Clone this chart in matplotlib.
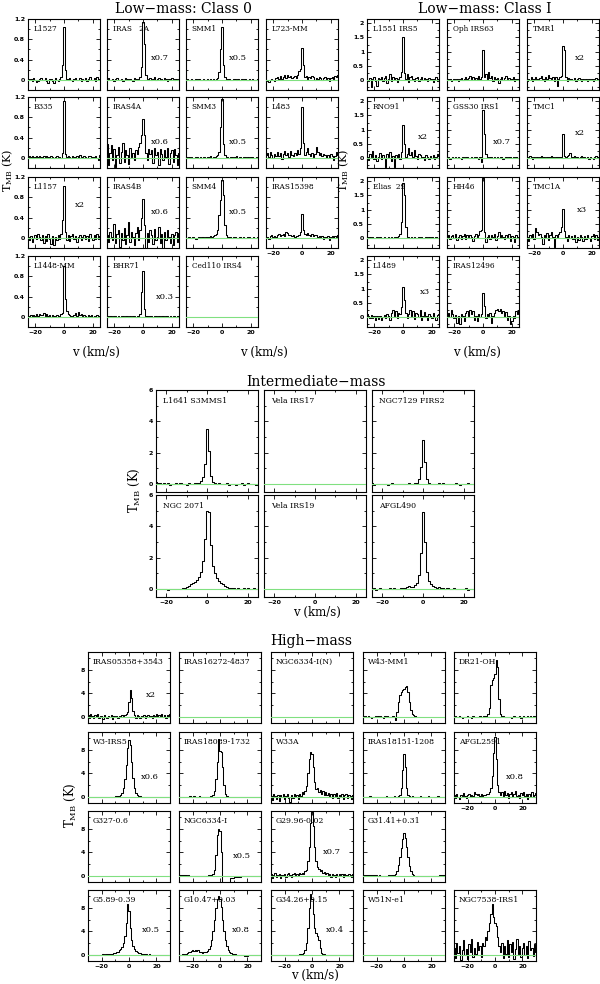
import numpy as np
from matplotlib import pyplot as plt
from matplotlib.ticker import MultipleLocator, FixedLocator, FuncFormatter

# Velocity channels (km/s)
v_low = [-25, -24, -23, -22, -21, -20, -19, -18, -17, -16, -15, -14, -13, -12, -11, -10, -9, -8, -7, -6,
         -5, -4, -3, -2, -1, 0, 1, 2, 3, 4, 5, 6, 7, 8, 9, 10, 11, 12, 13, 14, 15, 16, 17, 18, 19, 20,
         21, 22, 23, 24, 25]
v_high = [-30, -29, -28, -27, -26, -25, -24, -23, -22, -21, -20, -19, -18, -17, -16, -15, -14, -13, -12, -11,
          -10, -9, -8, -7, -6, -5, -4, -3, -2, -1, 0, 1, 2, 3, 4, 5, 6, 7, 8, 9, 10,
          11, 12, 13, 14, 15, 16, 17, 18, 19, 20, 21, 22, 23, 24, 25, 26, 27, 28, 29, 30]
nan = np.nan

# ---------------- Low-mass Class 0 (K) ----------------
t_l1527 = [0.02, -0.01, 0.01, -0.03, 0.03, 0.00, -0.04, -0.02, 0.02, 0.03,
           -0.01, 0.00, 0.04, -0.02, -0.06, 0.01, 0.02, -0.03, -0.07, 0.03,
           0.00, -0.02, 0.01, 0.05, 0.30, 1.05, 0.20, 0.02, -0.01, 0.03, 0.00,
           -0.02, 0.02, 0.04, -0.01, 0.00, 0.03, -0.02, 0.01, 0.00, 0.04,
           -0.03, 0.02, 0.05, -0.01, 0.00, 0.03, -0.02, 0.06, 0.00, 0.02]
t_iras2a = [0.01, 0.03, -0.01, 0.00, 0.02, -0.02, 0.01, 0.03, 0.00, -0.01,
            0.02, -0.02, 0.00, 0.03, 0.01, -0.01, 0.02, 0.00, -0.02, 0.03,
            0.01, 0.00, 0.02, 0.05, 0.25, 1.15, 0.70, 0.10, 0.02, -0.01, 0.03,
            0.00, 0.02, 0.05, -0.01, 0.01, 0.04, 0.00, 0.02, -0.01, 0.03,
            0.01, -0.02, 0.02, 0.00, 0.03, 0.01, -0.01, 0.02, 0.00, 0.01]
t_smm1 = [0.00, 0.01, -0.01, 0.00, 0.02, 0.00, -0.01, 0.01, 0.00, 0.01,
          -0.01, 0.00, 0.01, 0.00, -0.01, 0.01, 0.00, 0.01, 0.00, 0.01,
          0.00, 0.01, 0.03, 0.15, 0.60, 1.05, 0.30, 0.05, 0.01, 0.00, 0.01,
          0.00, -0.01, 0.01, 0.02, 0.00, 0.01, -0.01, 0.00, 0.01, 0.00,
          0.01, 0.00, -0.01, 0.01, 0.00, 0.01, 0.00, -0.01, 0.00, 0.01]
t_l723 = [0.00, -0.02, -0.04, -0.01, 0.02, 0.00, -0.03, 0.03, 0.05, 0.01,
          0.07, 0.02, 0.05, 0.09, 0.04, 0.10, 0.06, 0.08, 0.03, 0.05,
          0.07, 0.04, 0.10, 0.18, 0.22, 0.63, 0.30, 0.05, 0.08, 0.02, 0.06,
          0.03, 0.07, 0.05, -0.01, 0.04, 0.02, 0.05, 0.03, 0.00, 0.04,
          0.06, 0.02, 0.03, -0.02, 0.04, 0.05, 0.02, 0.08, 0.05, 0.09]
t_b335 = [0.02, 0.04, 0.01, 0.03, 0.00, 0.02, 0.04, 0.01, 0.03, 0.02,
          0.00, 0.03, 0.01, 0.04, 0.02, 0.00, 0.03, 0.01, -0.01, 0.02,
          0.03, 0.01, 0.02, 0.00, 0.10, 1.12, 0.08, 0.01, 0.03, 0.02, 0.00,
          0.04, 0.02, 0.01, 0.03, 0.00, 0.05, 0.02, 0.01, 0.03, 0.02,
          0.00, 0.03, 0.04, 0.01, 0.02, -0.01, 0.03, 0.00, -0.04, 0.05]
t_iras4a = [0.28, -0.15, 0.10, 0.25, -0.05, 0.18, -0.18, 0.05, 0.22, -0.10,
            0.12, 0.30, -0.08, 0.15, 0.05, -0.12, 0.20, 0.02, 0.10, -0.05,
            0.15, 0.08, 0.22, 0.30, 0.45, 0.77, 0.45, 0.10, -0.05, 0.18, 0.08,
            0.15, -0.10, 0.20, 0.05, 0.12, -0.15, 0.18, 0.08, -0.05, 0.15,
            0.02, 0.20, -0.12, 0.10, 0.15, -0.08, 0.18, 0.05, -0.15, 0.10]
t_smm3 = [0.01, 0.00, 0.02, 0.00, 0.01, -0.01, 0.00, 0.02, 0.01, 0.00,
          0.01, 0.00, 0.02, 0.01, 0.00, 0.02, 0.01, 0.03, 0.00, 0.01,
          0.02, 0.03, 0.05, 0.12, 0.60, 1.16, 0.28, 0.05, 0.01, 0.02, 0.00,
          0.01, 0.02, 0.00, 0.01, 0.03, 0.00, 0.01, 0.02, 0.00, 0.01,
          0.02, 0.00, 0.01, 0.00, 0.02, 0.01, 0.00, -0.01, 0.02, 0.00]
t_l483 = [0.05, 0.10, 0.02, 0.12, 0.06, 0.00, 0.08, 0.04, 0.11, 0.03,
          0.09, -0.02, 0.07, 0.13, 0.05, 0.10, 0.02, 0.14, 0.06, 0.03,
          0.10, 0.05, 0.16, 0.08, 0.20, 1.00, 0.30, 0.05, 0.12, 0.20, 0.08,
          0.04, 0.10, 0.02, 0.08, 0.22, 0.12, 0.05, 0.09, 0.03, 0.07,
          0.05, 0.00, 0.06, 0.02, 0.08, 0.03, -0.05, 0.04, 0.12, 0.06]
t_l1157 = [0.02, -0.05, 0.04, -0.08, 0.00, 0.06, -0.03, 0.08, 0.01, -0.04,
           0.05, -0.10, 0.03, -0.06, 0.07, -0.02, -0.12, 0.04, -0.15, 0.02,
           -0.05, 0.06, -0.02, 0.08, 0.35, 1.03, 0.12, -0.04, 0.05, -0.06, 0.03,
           0.07, -0.03, 0.04, -0.08, 0.02, 0.06, -0.05, 0.01, 0.05, -0.02,
           0.03, -0.06, 0.08, 0.00, -0.04, 0.05, -0.02, 0.07, -0.03, 0.04]
t_iras4b = [0.05, -0.08, 0.12, 0.02, -0.05, 0.28, -0.10, 0.08, 0.15, -0.18,
            0.10, -0.05, 0.20, -0.12, 0.05, 0.32, -0.08, 0.12, 0.02, -0.15,
            0.10, 0.22, -0.05, 0.15, 0.40, 0.76, 0.25, -0.20, 0.10, -0.08, 0.15,
            0.05, -0.12, 0.18, -0.05, 0.02, 0.22, -0.10, 0.08, -0.25, 0.12,
            -0.05, 0.15, 0.02, -0.10, 0.08, -0.15, 0.05, 0.12, -0.08, 0.10]
t_smm4 = [-0.01, 0.00, 0.01, -0.01, 0.00, 0.01, 0.00, -0.02, 0.00, 0.01,
          0.00, 0.01, 0.02, 0.00, 0.01, 0.02, 0.01, 0.03, 0.02, 0.04,
          0.05, 0.08, 0.15, 0.45, 0.75, 1.15, 0.85, 0.25, 0.05, 0.02, 0.01,
          0.02, 0.00, 0.01, 0.02, 0.00, -0.01, 0.01, 0.02, 0.00, 0.01,
          -0.01, 0.00, 0.01, 0.02, 0.00, -0.01, 0.01, 0.00, -0.01, 0.02]
t_iras15398 = [0.00, 0.02, -0.03, 0.03, 0.05, 0.01, 0.04, 0.02, 0.06, 0.08,
               0.03, 0.05, 0.07, 0.04, 0.12, 0.10, 0.05, 0.06, 0.03, 0.05,
               0.02, 0.04, 0.03, 0.05, 0.12, 0.48, 0.15, 0.08, 0.05, 0.10, 0.06,
               0.04, 0.08, 0.03, 0.06, 0.05, 0.02, 0.04, 0.01, 0.03, -0.02,
               0.02, 0.00, 0.03, -0.04, 0.01, 0.03, 0.00, 0.04, 0.02, 0.05]
t_l1448 = [0.02, -0.01, 0.03, 0.00, 0.04, 0.01, 0.05, 0.02, 0.06, 0.03,
           0.04, 0.07, 0.02, 0.05, 0.01, 0.03, 0.00, 0.04, 0.02, 0.01,
           0.03, 0.00, 0.02, 0.05, 0.08, 1.00, 0.35, 0.12, 0.05, 0.03, 0.02,
           0.00, 0.04, 0.08, 0.02, 0.09, 0.03, 0.06, 0.01, 0.04, 0.02,
           0.00, 0.03, 0.01, 0.04, 0.00, 0.02, -0.01, 0.03, 0.01, 0.02]
t_bhr71 = [0.01, 0.00, 0.02, 0.01, 0.00, 0.01, 0.02, 0.00, 0.01, 0.00,
           0.02, 0.01, 0.00, 0.01, 0.02, 0.00, 0.01, 0.00, 0.02, 0.01,
           0.00, 0.01, 0.02, 0.05, 0.50, 0.90, 0.15, 0.02, 0.01, 0.00, 0.01,
           0.02, 0.00, 0.01, 0.02, 0.00, 0.01, 0.00, 0.02, 0.01, 0.00,
           0.01, 0.02, 0.00, 0.01, 0.00, 0.02, 0.01, 0.00, 0.01, 0.02]

# ---------------- Low-mass Class I (K) ----------------
t_l1551 = [0.00, -0.05, 0.08, -0.25, 0.05, 0.10, -0.02, -0.22, 0.06, 0.02,
           0.12, -0.05, 0.08, 0.15, -0.10, 0.05, 0.20, -0.04, 0.10, 0.03,
           0.08, -0.06, 0.05, 0.12, 0.30, 1.50, 0.25, 0.05, 0.20, -0.08, 0.10,
           0.15, 0.02, -0.05, 0.08, 0.12, -0.02, 0.05, 0.10, 0.00, 0.06,
           0.03, -0.04, 0.08, 0.02, 0.05, -0.06, 0.04, 0.10, -0.02, 0.03]
t_oph63 = [0.02, 0.00, 0.04, -0.02, 0.01, 0.05, 0.00, 0.03, -0.03, 0.02,
           0.06, 0.00, 0.04, 0.10, 0.02, 0.08, 0.15, 0.05, 0.12, 0.04,
           0.08, 0.02, 0.15, 0.05, 0.10, 1.05, 0.10, 0.20, 0.05, 0.28, 0.08,
           0.15, -0.05, 0.10, 0.02, 0.08, -0.10, 0.05, 0.12, 0.00, 0.06,
           0.15, 0.03, 0.08, 0.00, 0.05, 0.10, -0.02, 0.04, 0.02, 0.00]
t_tmr1 = [-0.05, 0.05, 0.00, 0.10, -0.03, 0.02, 0.12, 0.05, 0.00, 0.08,
          0.15, 0.02, -0.05, 0.10, 0.05, 0.18, 0.08, 0.02, 0.12, -0.05,
          0.10, -0.20, 0.05, 0.12, 0.15, 1.20, 1.05, 0.10, -0.05, 0.08, 0.02,
          0.05, 0.00, 0.06, -0.02, 0.04, 0.08, 0.02, -0.03, 0.05, 0.01,
          0.03, -0.02, 0.04, 0.00, 0.05, -0.03, 0.02, 0.06, -0.01, 0.03]
t_rno91 = [0.05, -0.08, 0.15, 0.02, 0.25, -0.05, 0.10, -0.12, 0.05, 0.18,
           -0.05, 0.12, 0.00, -0.30, 0.15, 0.05, 0.20, -0.10, 0.08, -0.30,
           0.10, 0.00, 0.15, -0.05, 0.20, 1.15, 0.50, 0.05, 0.15, 0.35, 0.10,
           0.20, 0.02, 0.30, 0.08, -0.05, 0.15, 0.10, 0.00, 0.05, -0.08,
           0.10, 0.05, -0.02, 0.08, 0.00, 0.12, -0.05, 0.03, 0.15, 0.08]
t_gss30 = [0.00, 0.02, -0.02, 0.01, 0.03, -0.01, 0.02, 0.00, 0.04, 0.01,
           -0.02, 0.03, 0.00, 0.02, 0.05, 0.01, -0.01, 0.03, 0.00, 0.02,
           0.04, 0.01, -0.02, 0.05, -0.15, 1.70, 0.85, 0.15, 0.03, 0.00, 0.02,
           0.05, 0.01, 0.03, -0.01, 0.02, 0.00, 0.04, 0.02, -0.02, 0.01,
           0.03, 0.00, 0.02, 0.05, -0.01, 0.02, 0.00, 0.03, 0.01, 0.00]
t_tmc1 = [0.00, 0.03, 0.06, 0.02, -0.02, 0.04, 0.01, 0.05, 0.00, 0.03,
          0.06, 0.02, 0.04, 0.00, 0.03, 0.05, 0.02, 0.06, 0.03, 0.01,
          0.04, 0.02, 0.05, 0.03, 0.05, 0.85, 0.08, 0.04, 0.06, 0.10, 0.18,
          0.05, 0.03, 0.08, 0.02, 0.05, 0.00, 0.04, 0.06, 0.02, 0.05,
          0.00, 0.03, -0.02, 0.04, 0.01, -0.04, 0.03, 0.06, 0.02, 0.04]
t_elias29 = [0.03, 0.01, 0.02, 0.00, 0.02, 0.01, -0.01, 0.02, 0.00, 0.03,
             0.01, 0.00, 0.02, -0.01, 0.01, 0.03, 0.00, 0.02, 0.01, 0.03,
             0.02, 0.04, 0.08, 0.15, 0.55, 1.95, 1.50, 0.40, 0.05, 0.02, 0.01,
             0.03, 0.00, 0.02, 0.01, -0.01, 0.02, 0.00, 0.03, 0.01, 0.00,
             0.02, 0.01, 0.03, -0.01, 0.02, 0.00, 0.01, 0.02, 0.00, 0.01]
t_hh46 = [0.05, 0.10, -0.05, 0.08, 0.12, 0.00, 0.15, -0.08, 0.05, 0.10,
          -0.02, 0.08, 0.15, -0.05, 0.10, 0.02, 0.12, 0.05, -0.10, 0.08,
          0.15, 0.02, 0.10, 0.25, 0.30, 2.10, 0.20, -0.15, 0.05, 0.12, -0.05,
          0.10, 0.02, 0.15, -0.08, 0.08, 0.20, 0.00, 0.10, 0.05, -0.05,
          0.12, 0.02, 0.15, -0.10, 0.08, 0.05, -0.15, 0.10, 0.00, 0.05]
t_tmc1a = [0.05, -0.12, 0.10, 0.02, 0.15, -0.05, 0.35, 0.20, 0.10, 0.15,
           0.02, -0.20, 0.12, 0.05, 0.18, -0.08, 0.10, 0.22, 0.05, -0.30,
           0.10, 0.05, 0.15, 0.20, 0.40, 1.02, 0.25, 0.05, -0.10, 0.12, 0.00,
           0.08, -0.05, 0.10, -0.15, 0.02, -0.08, 0.12, 0.05, -0.10, 0.08,
           -0.05, 0.10, 0.00, -0.12, 0.08, 0.15, -0.05, 0.10, -0.08, 0.05]
t_l1489 = [0.10, 0.05, -0.05, 0.08, -0.02, 0.05, -0.10, 0.02, -0.08, 0.05,
           -0.12, 0.00, 0.08, -0.05, 0.10, 0.02, -0.10, 0.15, 0.25, 0.05,
           0.20, -0.05, 0.15, 0.10, 0.35, 1.05, 0.60, 0.15, -0.05, 0.10, 0.25,
           0.05, 0.20, -0.08, 0.15, 0.10, 0.00, 0.25, -0.10, 0.05, 0.18,
           0.02, -0.12, 0.10, 0.05, -0.05, 0.15, 0.00, -0.10, 0.08, 0.12]
t_iras12496 = [0.05, 0.15, 0.00, 0.25, 0.10, -0.05, 0.08, -0.20, 0.05, -0.25,
               0.10, 0.02, -0.15, 0.15, 0.20, 0.05, 0.25, 0.12, 0.20, -0.10,
               0.05, -0.15, 0.10, 0.00, 0.10, 0.85, 0.40, -0.05, 0.10, 0.02, 0.15,
               -0.20, 0.05, 0.15, 0.25, 0.30, 0.20, 0.28, 0.15, 0.22, 0.05,
               0.18, -0.10, 0.05, -0.25, -0.15, 0.05, -0.05, 0.20, 0.10, 0.25]

# ---------------- Intermediate-mass (K) ----------------
t_l1641 = [0.15, 0.05, 0.10, 0.00, 0.08, 0.02, 0.06, -0.05, 0.04, 0.00,
           0.05, -0.02, 0.06, 0.01, 0.04, -0.03, 0.05, 0.00, 0.03, 0.07,
           0.05, 0.10, 0.20, 0.45, 1.30, 3.50, 2.10, 0.55, 0.15, 0.05, 0.02,
           0.06, -0.02, 0.04, 0.00, 0.05, -0.04, 0.03, 0.01, -0.05, 0.04,
           0.00, 0.05, -0.03, 0.02, 0.06, -0.02, 0.04, 0.00, -0.06, 0.03]
t_ngc7129 = [0.05, -0.03, 0.02, 0.00, 0.04, -0.02, 0.03, 0.01, -0.03, 0.02,
             0.05, 0.00, -0.02, 0.03, 0.01, 0.04, -0.01, 0.02, 0.05, 0.00,
             0.03, 0.06, 0.10, 0.30, 1.10, 2.80, 1.40, 0.30, 0.08, 0.02, 0.04,
             0.00, 0.03, 0.05, 0.02, 0.10, 0.04, 0.00, 0.03, -0.02, 0.02,
             0.05, 0.00, -0.03, 0.02, 0.04, 0.01, 0.06, -0.02, 0.03, 0.00]
t_ngc2071 = [0.02, 0.00, 0.03, -0.02, 0.01, 0.00, -0.05, 0.02, 0.00, 0.03,
             0.00, 0.04, 0.02, 0.05, 0.10, 0.15, 0.20, 0.30, 0.38, 0.45,
             0.60, 0.80, 1.10, 1.80, 3.20, 5.00, 4.90, 2.80, 1.50, 1.00, 0.70,
             0.50, 0.40, 0.30, 0.22, 0.15, 0.10, 0.05, 0.08, 0.02, 0.05,
             0.00, 0.04, 0.08, 0.02, 0.05, 0.00, 0.03, 0.06, 0.01, 0.04]
t_afgl490 = [0.00, 0.05, -0.03, 0.02, 0.06, -0.02, 0.04, 0.00, 0.03, 0.07,
             0.02, 0.05, 0.00, 0.04, 0.08, 0.05, 0.10, 0.15, 0.20, 0.12,
             0.15, 0.25, 0.40, 0.90, 2.30, 4.90, 3.00, 1.10, 0.50, 0.30, 0.18,
             0.12, 0.10, 0.15, 0.05, 0.08, 0.02, 0.06, 0.00, 0.04, 0.05,
             0.00, 0.03, -0.02, 0.04, 0.01, 0.05, -0.03, 0.02, 0.00, 0.03]

# ---------------- High-mass (K) ----------------
t_iras05358 = [0.40, -0.10, 0.50, 0.20, -0.20, 0.30, 0.00, 0.45, -0.15, 0.25,
               0.10, -0.30, 0.35, 0.05, -0.20, 0.15, -0.05, 0.30, -0.25, 0.10,
               0.00, 0.20, -0.15, 0.25, 0.05, 0.30, 0.10,
               0.30, 0.50, 0.80, 2.50, 4.60, 3.20, 1.00,
               0.40, -0.20, 0.30, 0.10, -0.15, 0.25, 0.05,
               0.30, -0.10, 0.20, 0.40, 0.00, 0.25, -0.20, 0.35, 0.10, 0.45,
               -0.05, 0.30, 0.15, 0.50, 0.05, 0.35, -0.10, 0.40, 0.20, 0.55]
t_w43 = [0.10, 0.00, 0.15, -0.05, 0.10, 0.05, -0.10, 0.08, 0.00, 0.12,
         -0.05, 0.10, 0.00, 0.15, 0.05, -0.08, 0.10, 0.02, 0.12, 0.00,
         0.08, -0.05, 0.10, 0.00, -0.50, 0.80, 2.50,
         3.80, 4.20, 4.60, 4.80, 5.00, 5.30, 4.20,
         2.50, 1.20, 0.60, 0.30, 0.10, nan, nan,
         nan, nan, nan, nan, nan, nan, nan, nan, nan, nan,
         nan, nan, nan, nan, nan, nan, nan, nan, nan, nan]
t_dr21oh = [0.00, 0.10, -0.05, 0.05, 0.15, 0.00, -0.10, 0.08, 0.02, -0.05,
            0.10, 0.00, 0.05, -0.08, 0.12, 0.03, 0.00, 0.08, -0.05, 0.10,
            0.05, 0.00, 0.10, 0.15, 0.20, 0.50, 1.50,
            5.50, 6.30, 6.60, 7.20, 9.60, 8.50, 3.00,
            0.60, 0.20, 0.10, 0.00, 0.05, -0.05, 0.08,
            0.00, -0.10, 0.05, 0.12, -0.05, 0.08, 0.00, 0.10, -0.08, 0.05,
            0.10, 0.00, -0.05, 0.12, 0.05, 0.15, 0.00, 0.10, 0.20, 0.05]
t_w3irs5 = [0.00, 0.05, -0.03, 0.02, 0.06, 0.00, -0.02, 0.04, 0.01, 0.03,
            0.05, 0.00, 0.03, -0.02, 0.04, 0.02, 0.06, 0.03, 0.08, 0.05,
            0.10, 0.12, 0.18, 0.25, 0.35, 0.70, 1.50,
            3.00, 5.50, 8.30, 9.60, 8.80, 6.00, 3.20,
            1.50, 0.70, 0.35, 0.20, 0.12, 0.08, 0.05,
            0.03, 0.06, 0.00, 0.04, 0.02, -0.02, 0.03, 0.05, 0.00, 0.02,
            0.04, 0.00, 0.03, -0.03, 0.02, 0.05, 0.00, 0.03, 0.01, 0.04]
t_iras18089 = [0.05, 0.00, 0.08, 0.02, -0.05, 0.04, 0.00, 0.06, 0.10, 0.02,
               0.05, 0.15, 0.08, 0.00, 0.05, 0.10, 0.03, 0.00, 0.06, 0.02,
               0.05, 0.00, 0.08, 0.10, 0.20, 0.30, 1.00,
               3.00, 6.00, 9.80, 7.80, 7.60, 5.00, 2.00,
               0.60, 0.20, 0.08, 0.03, 0.05, 0.00, 0.04,
               0.02, 0.06, -0.02, 0.03, 0.00, 0.05, 0.02, -0.03, 0.04, 0.00,
               0.03, 0.05, -0.02, 0.02, 0.00, 0.04, 0.01, -0.02, 0.03, 0.00]
t_w33a = [0.20, -0.50, 0.60, 0.10, -0.30, 0.40, -0.60, 0.30, 0.00, 0.50,
          -0.40, 0.20, 0.60, -0.20, -0.80, 0.30, -0.10, 0.50, 0.00, 0.40,
          -0.30, 0.60, 0.20, 0.80, 0.50, 1.00, 1.80,
          4.00, 6.50, 7.60, 7.30, 5.00, 2.50, 1.40,
          1.50, 0.80, 1.20, 0.60, 1.00, 0.40, 0.90,
          0.30, 0.70, 0.10, 0.60, -0.20, 0.50, 0.20, 0.70, -0.10, 0.40,
          0.00, 0.50, -0.30, 0.30, 0.60, -0.20, 0.40, 0.10, -0.40, 0.30]
t_iras18151 = [0.05, 0.00, 0.08, -0.03, 0.04, 0.10, 0.00, 0.05, -0.02, 0.06,
               0.02, 0.08, 0.00, 0.05, 0.03, -0.03, 0.06, 0.10, 0.02, 0.05,
               0.00, 0.08, 0.04, 0.10, 0.05, 0.08, 0.15,
               0.30, 1.50, 4.50, 7.30, 5.00, 1.50, 0.40,
               0.10, 0.05, 0.10, 0.00, 0.06, 0.02, 0.08,
               0.05, 0.10, 0.00, 0.04, 0.08, -0.03, 0.05, 0.12, 0.00, 0.06,
               0.02, 0.08, -0.02, 0.05, 0.10, 0.00, 0.06, 0.02, 0.08, 0.04]
t_afgl2591 = [0.30, -0.20, 0.50, 0.00, -0.30, 0.40, 0.10, 0.70, 0.20, -0.10,
              0.30, 0.60, 0.00, 0.40, 0.20, 0.80, 0.50, 0.30, 0.60, 0.20,
              0.50, 0.10, 0.40, 0.30, 0.60, 0.50, 0.80,
              1.50, 3.50, 7.50, 10.2, 6.50, 2.00, 0.80,
              0.40, 0.90, 0.20, 1.00, 0.30, 0.70, -0.10,
              0.50, 0.80, 0.00, 0.60, 1.00, 0.20, 0.40, -0.20, 0.70, 0.30,
              0.90, 0.10, 0.50, -0.30, 0.60, 0.20, 0.80, 0.00, 0.40, 0.70]
t_ngc6334i = [0.20, 0.15, 0.18, 0.12, 0.10, 0.12, 0.08, 0.10, 0.05, 0.08,
              0.05, 0.03, 0.06, 0.02, 0.04, 0.00, 0.03, 0.05, 0.02, 0.04,
              0.05, 0.08, 0.10, 0.12, 0.15, 0.30, 1.00,
              3.50, 7.00, 7.90, 7.60, 4.00, -3.00, -3.00,
              -3.00, -3.00, -3.00, -3.00, -0.40, -0.30, -0.25,
              -0.20, -0.15, -0.12, -0.10, -0.08, -0.05, -0.05, -0.03, 0.00, -0.02,
              0.00, 0.02, 0.00, 0.03, 0.01, 0.04, 0.02, 0.05, 0.03, 0.06]
t_g2996 = [0.30, -0.40, 0.20, 0.50, -0.20, 0.10, 0.40, -0.30, 0.20, 0.00,
           0.40, -0.10, 0.30, 0.60, 0.10, -0.20, 0.30, 0.50, 0.20, 0.40,
           0.10, 0.50, 0.30, 0.60, 0.40, 0.80, 1.00,
           2.50, 5.00, 9.00, 10.8, 8.50, 5.00, 2.50,
           1.60, 1.20, 0.90, 1.00, 0.60, 0.70, 0.30,
           0.50, 0.10, 0.40, -0.10, 0.30, 0.20, -0.20, 0.40, 0.00, 0.30,
           0.10, 0.40, -0.10, 0.30, 0.20, 0.00, 0.40, 0.10, -0.10, 0.30]
t_g3141 = [0.25, 0.20, 0.22, 0.18, 0.20, 0.15, 0.18, 0.12, 0.15, 0.10,
           0.12, 0.08, 0.10, 0.05, 0.08, 0.06, 0.04, 0.08, 0.05, 0.10,
           0.08, 0.12, 0.15, 0.25, 0.40, 0.80, 1.80,
           3.20, 4.80, 6.30, 7.20, 6.50, 5.00, 3.20,
           1.70, 0.80, 0.35, 0.15, 0.05, 0.02, -0.02,
           0.00, -0.05, -0.02, 0.00, -0.04, -0.02, 0.00, 0.02, -0.03, 0.00,
           0.02, 0.00, 0.04, 0.05, 0.08, 0.10, 0.12, 0.15, 0.18, 0.20]
t_g589 = [0.00, 0.02, -0.03, 0.04, 0.00, 0.05, 0.02, 0.06, 0.03, 0.08,
          0.05, 0.10, 0.08, 0.12, 0.15, 0.12, 0.18, 0.20, 0.25, 0.30,
          0.40, 0.50, 0.60, 0.80, 1.00, 1.40, 2.00,
          3.20, 5.50, 8.60, 7.50, 4.50, 2.50, 1.50,
          1.00, 0.70, 0.50, 0.40, 0.35, 0.25, 0.20,
          0.15, 0.12, 0.10, 0.08, 0.10, 0.05, 0.06, 0.03, 0.05, 0.00,
          0.02, 0.04, 0.00, -0.02, 0.03, 0.00, 0.02, -0.03, 0.01, 0.03]
t_g1047 = [0.00, 0.05, -0.05, 0.10, 0.05, 0.20, 0.30, 0.50, 0.60, 0.70,
           0.80, 0.75, 0.85, 0.70, 0.80, 0.60, 0.50, 0.40, 0.45, 0.50,
           0.50, 0.70, 1.00, 1.50, 2.50, 4.00, 6.00,
           8.00, 9.50, 10.0, 9.50, 8.20, 6.00, 4.00,
           2.50, 1.50, 0.90, 0.60, 0.35, 0.20, 0.15,
           0.10, 0.05, 0.08, 0.00, 0.05, -0.05, 0.00, -0.10, -0.20, -0.15,
           0.00, 0.05, -0.05, 0.02, 0.00, 0.05, -0.02, 0.03, 0.00, 0.04]
t_g3426 = [0.05, 0.00, 0.03, -0.02, 0.04, 0.00, 0.02, 0.05, 0.00, 0.03,
           0.02, 0.05, 0.00, 0.04, 0.02, 0.06, 0.03, 0.05, 0.08, 0.05,
           0.08, 0.10, 0.12, 0.20, 0.30, 0.80, 2.00,
           4.50, 8.00, 10.3, 9.50, 7.00, 4.50, 3.80,
           3.20, 2.50, 1.20, 0.40, 0.20, 0.10, 0.05,
           0.08, 0.03, 0.05, 0.00, 0.04, 0.06, 0.02, 0.05, 0.00, 0.03,
           0.05, 0.02, 0.00, 0.04, 0.06, 0.02, 0.05, 0.00, 0.03, 0.05]
t_ngc7538 = [1.20, -0.50, 2.00, 0.30, 1.50, -0.80, 0.80, 2.50, 0.00, 1.00,
             -0.60, 1.80, 0.50, 2.80, -0.40, 1.20, 0.20, 2.20, 0.80, 1.50,
             -0.30, 2.00, 1.50, 3.00, 2.50, 4.00, 5.50,
             7.00, 8.70, 6.50, 5.50, 5.00, 3.00, 1.50,
             0.50, 2.00, -0.50, 1.50, 0.20, 2.50, -0.30,
             1.80, 0.50, 2.20, -0.60, 1.00, 2.80, 0.20, 1.50, -0.40, 1.20,
             2.00, 0.00, 1.60, -0.50, 2.40, 0.80, 1.20, -0.20, 1.80, 0.60]

# Source names and scaling factors
class0_names = ['L1527', 'IRAS   2A', 'SMM1', 'L723-MM', 'B335', 'IRAS4A', 'SMM3', 'L483',
                'L1157', 'IRAS4B', 'SMM4', 'IRAS15398', 'L1448-MM', 'BHR71', 'Ced110 IRS4']
class0_scales = ['', 'x0.7', 'x0.5', '', '', 'x0.6', 'x0.5', '', 'x2', 'x0.6', 'x0.5', '', '', 'x0.3', '']
class0_data = [t_l1527, t_iras2a, t_smm1, t_l723, t_b335, t_iras4a, t_smm3, t_l483,
               t_l1157, t_iras4b, t_smm4, t_iras15398, t_l1448, t_bhr71, None]

class1_names = ['L1551 IRS5', 'Oph IRS63', 'TMR1', 'RNO91', 'GSS30 IRS1', 'TMC1',
                'Elias  29', 'HH46', 'TMC1A', 'L1489', 'IRAS12496']
class1_scales = ['', '', 'x2', 'x2', 'x0.7', 'x2', '', '', 'x3', 'x3', '']
class1_data = [t_l1551, t_oph63, t_tmr1, t_rno91, t_gss30, t_tmc1, t_elias29, t_hh46,
               t_tmc1a, t_l1489, t_iras12496]

inter_names = ['L1641 S3MMS1', 'Vela IRS17', 'NGC7129 FIRS2', 'NGC 2071', 'Vela IRS19', 'AFGL490']
inter_scales = ['', '', '', '', '', '']
inter_data = [t_l1641, None, t_ngc7129, t_ngc2071, None, t_afgl490]

high_names = ['IRAS05358+3543', 'IRAS16272-4837', 'NGC6334-I(N)', 'W43-MM1', 'DR21-OH',
              'W3-IRS5', 'IRAS18089-1732', 'W33A', 'IRAS18151-1208', 'AFGL2591',
              'G327-0.6', 'NGC6334-I', 'G29.96-0.02', 'G31.41+0.31', None,
              'G5.89-0.39', 'G10.47+0.03', 'G34.26+0.15', 'W51N-e1', 'NGC7538-IRS1']
high_scales = ['x2', '', '', '', '', 'x0.6', '', '', '', 'x0.8',
               '', 'x0.5', 'x0.7', '', '', 'x0.5', 'x0.8', 'x0.4', '', '']
high_data = [t_iras05358, None, None, t_w43, t_dr21oh,
             t_w3irs5, t_iras18089, t_w33a, t_iras18151, t_afgl2591,
             None, t_ngc6334i, t_g2996, t_g3141, None,
             t_g589, t_g1047, t_g3426, None, t_ngc7538]

# ---------------- Figure ----------------
plt.rcParams['font.family'] = 'DejaVu Serif'
plt.rcParams['mathtext.fontset'] = 'dejavuserif'
W, H = 600, 984
fig = plt.figure(figsize=(6, 9.84), dpi=100)
green = '#80e080'


def tick_fmt(x, pos):
    if abs(x) < 1e-9:
        return '0'
    return ('%g' % x).replace('-', '\u2212')


def draw_group(lefts, tops, w, h, names, data, scales, scale_pos, v, xlim, ylim,
               ymaj, ymin, name_xy, name_size):
    ncol = len(lefts)
    n = len(names)
    for i in range(n):
        if names[i] is None:
            continue
        r, c = divmod(i, ncol)
        ax = fig.add_axes([lefts[c] / W, 1 - (tops[r] + h) / H, w / W, h / H])
        if data[i] is not None:
            ax.step(v, data[i], where='mid', color='black', lw=0.75)
        ax.axhline(0, color=green, lw=0.8, zorder=3)
        ax.set_xlim(xlim)
        ax.set_ylim(ylim)
        ax.xaxis.set_major_locator(FixedLocator([-20, 0, 20]))
        ax.xaxis.set_minor_locator(MultipleLocator(10))
        ax.yaxis.set_major_locator(MultipleLocator(ymaj))
        ax.yaxis.set_minor_locator(MultipleLocator(ymin))
        ax.xaxis.set_major_formatter(FuncFormatter(tick_fmt))
        ax.yaxis.set_major_formatter(FuncFormatter(tick_fmt))
        below = i + ncol < n and names[i + ncol] is not None
        ax.tick_params(which='both', direction='in', top=True, right=True, width=0.6,
                       labelsize=4.5, pad=2, labelbottom=not below, labelleft=(c == 0))
        ax.tick_params(which='major', length=3)
        ax.tick_params(which='minor', length=1.5)
        for lab in ax.get_xticklabels() + ax.get_yticklabels():
            lab.set_fontweight('bold')
            lab.set_family('DejaVu Sans')
        for sp in ax.spines.values():
            sp.set_linewidth(0.8)
        ax.text(name_xy[0], name_xy[1], names[i], transform=ax.transAxes,
                ha='left', va='center', fontsize=name_size, zorder=5)
        if scales[i]:
            ax.text(scale_pos[i][0], scale_pos[i][1], scales[i], transform=ax.transAxes,
                    ha='center', va='center', fontsize=6)


# We place the scale factor labels (axes fractions)
class0_pos = [None, (0.74, 0.45), (0.72, 0.45), None, None, (0.74, 0.37), (0.72, 0.37), None,
              (0.72, 0.61), (0.74, 0.51), (0.72, 0.50), None, None, (0.80, 0.42), None]
class1_pos = [None, None, (0.74, 0.45), (0.78, 0.44), (0.76, 0.37), (0.74, 0.49),
              None, None, (0.76, 0.54), (0.80, 0.49), None]
high_pos = [(0.77, 0.39), None, None, None, None,
            (0.75, 0.37), None, None, None, (0.74, 0.37),
            None, (0.77, 0.36), (0.74, 0.42), None, None,
            (0.77, 0.44), (0.76, 0.44), (0.78, 0.44), None, None]

draw_group([28, 107, 186, 266], [19, 97, 177, 256], 72, 71, class0_names, class0_data,
           class0_scales, class0_pos, v_low, (-25, 25), (-0.2, 1.2), 0.4, 0.2, (0.08, 0.86), 5.3)
draw_group([367, 447, 527], [19, 97, 177, 256], 72, 71, class1_names, class1_data,
           class1_scales, class1_pos, v_low, (-25, 25), (-0.35, 2.15), 0.5, 0.25, (0.08, 0.86), 5.3)
draw_group([156, 264, 372], [390, 495], 102, 102, inter_names, inter_data,
           inter_scales, [None] * 6, v_low, (-25, 25), (-0.5, 6), 2, 1, (0.07, 0.89), 5.6)
draw_group([88, 179, 271, 363, 454], [652, 732, 811, 890], 82, 71, high_names, high_data,
           high_scales, high_pos, v_high, (-30, 30), (-1, 11), 4, 2, (0.06, 0.86), 5.6)

# Titles and axis labels
fig.text(183 / W, 1 - 9 / H, 'Low\u2212mass: Class 0', ha='center', va='center', fontsize=10)
fig.text(485 / W, 1 - 9 / H, 'Low\u2212mass: Class I', ha='center', va='center', fontsize=10)
fig.text(316 / W, 1 - 382 / H, 'Intermediate\u2212mass', ha='center', va='center', fontsize=10)
fig.text(311 / W, 1 - 641 / H, 'High\u2212mass', ha='center', va='center', fontsize=10)

xl = 'v (km/s)'
fig.text(96 / W, 1 - 352 / H, xl, ha='center', va='center', fontsize=8.5)
fig.text(264 / W, 1 - 352 / H, xl, ha='center', va='center', fontsize=8.5)
fig.text(477 / W, 1 - 352 / H, xl, ha='center', va='center', fontsize=8.5)
fig.text(317 / W, 1 - 612 / H, xl, ha='center', va='center', fontsize=8.5)
fig.text(315 / W, 1 - 975 / H, xl, ha='center', va='center', fontsize=8.5)

yl = r'T$_{\rm MB}$ (K)'
fig.text(8 / W, 1 - 170 / H, yl, ha='center', va='center', rotation=90, fontsize=8)
fig.text(344 / W, 1 - 170 / H, yl, ha='center', va='center', rotation=90, fontsize=8)
fig.text(134 / W, 1 - 490 / H, yl, ha='center', va='center', rotation=90, fontsize=8.5)
fig.text(70 / W, 1 - 805 / H, yl, ha='center', va='center', rotation=90, fontsize=8.5)

fig.savefig('out.png', dpi=100)
